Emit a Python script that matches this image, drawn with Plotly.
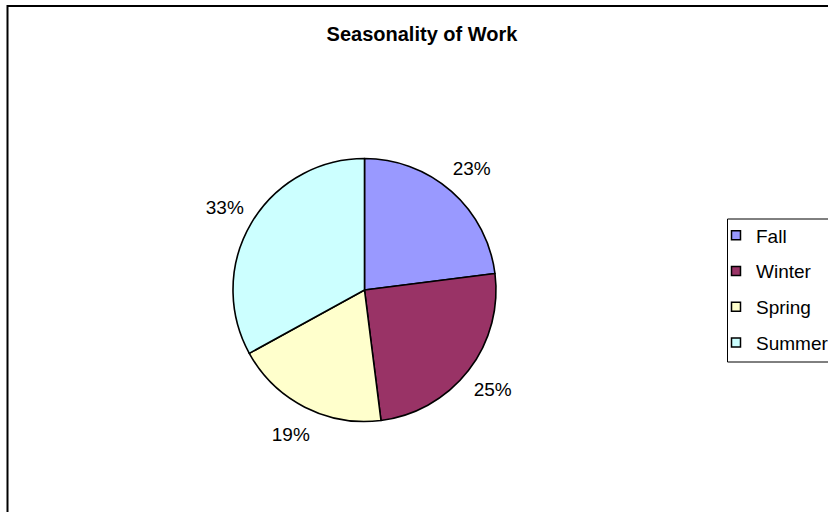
import plotly.graph_objects as go

# Share of work by season
seasons = ["Fall", "Winter", "Spring", "Summer"]
shares = [23, 25, 19, 33]
colors = ["#9999FF", "#993366", "#FFFFCC", "#CCFFFF"]

W, H = 828, 512
FONT = "Arial, Liberation Sans, Helvetica, sans-serif"

# pie geometry in pixels
cx, cy, r = 364.5, 290.0, 131.5
r_lab = 193.0  # outer radius of the label ring


def dom(cx_, cy_, rad):
    return dict(x=[(cx_ - rad) / W, (cx_ + rad) / W],
                y=[(H - cy_ - rad) / H, (H - cy_ + rad) / H])


fig = go.Figure()

# filled pie
fig.add_trace(go.Pie(
    labels=seasons, values=shares, sort=False, direction="clockwise",
    rotation=0, domain=dom(cx, cy, r),
    marker=dict(colors=colors, line=dict(color="black", width=1.6)),
    textinfo="none", showlegend=False, hoverinfo="label+percent",
))

# transparent ring carrying the percentage labels outside the pie
fig.add_trace(go.Pie(
    labels=seasons, values=shares, sort=False, direction="clockwise",
    rotation=0, domain=dom(cx, cy, r_lab), hole=r / r_lab,
    marker=dict(colors=["rgba(0,0,0,0)"] * len(seasons),
                line=dict(width=0)),
    textinfo="percent", textposition="inside",
    insidetextorientation="horizontal",
    textfont=dict(family=FONT, size=19, color="black"),
    showlegend=False, hoverinfo="skip",
))

# legend entries
for i, (name, col) in enumerate(zip(seasons, colors)):
    fig.add_trace(go.Scatter(
        x=[None], y=[None], mode="markers", name=name,
        legendgroup=f"g{i}",
        marker=dict(symbol="square", size=9, color=col,
                    line=dict(color="black", width=1.5)),
    ))

fig.update_layout(
    width=W, height=H,
    margin=dict(l=0, r=0, t=0, b=0, autoexpand=False),
    paper_bgcolor="white", plot_bgcolor="white",
    xaxis=dict(visible=False), yaxis=dict(visible=False),
    title=dict(text="<b>Seasonality of Work</b>", x=422 / W, xanchor="center",
               y=1 - 34 / H, yanchor="middle",
               font=dict(family=FONT, size=20, color="black")),
    legend=dict(x=716 / W, xanchor="left", y=1 - 216.5 / H, yanchor="top",
                font=dict(family=FONT, size=19, color="black"),
                bgcolor="rgba(0,0,0,0)", borderwidth=0,
                tracegroupgap=8, traceorder="grouped"),
    shapes=[
        # chart frame
        dict(type="rect", xref="paper", yref="paper",
             x0=7.5 / W, x1=1.05, y0=-0.05, y1=1 - 6 / H,
             line=dict(color="black", width=2), fillcolor="rgba(0,0,0,0)"),
        # legend frame
        dict(type="rect", xref="paper", yref="paper",
             x0=727.5 / W, x1=1.05, y0=1 - 362 / H, y1=1 - 219 / H,
             line=dict(color="black", width=1), fillcolor="rgba(0,0,0,0)"),
    ],
)

fig.write_html("out.html")
